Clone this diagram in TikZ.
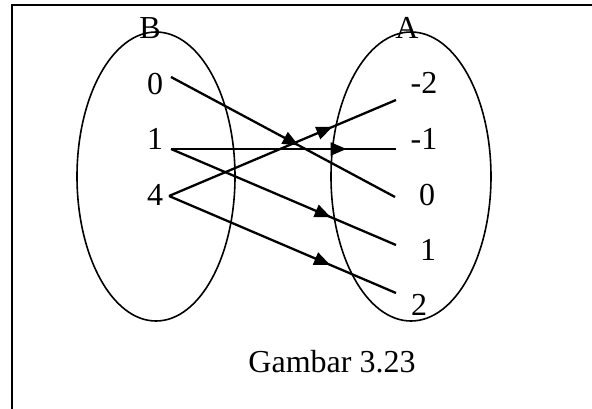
\documentclass[tikz,border=0pt]{standalone}
\usepackage{fontspec}
\setmainfont{Liberation Serif}
\usetikzlibrary{arrows.meta,decorations.markings}
\tikzset{
  lbl/.style={inner sep=0pt, anchor=base, font=\fontsize{32}{36}\selectfont},
  setoval/.style={draw, line width=1.6pt},
  frameline/.style={line width=2pt},
  maparrow/.style={line width=2.3pt, postaction={decorate},
    decoration={markings, mark=at position #1 with {\arrow{Triangle[length=16pt,width=13pt]}}}},
}
\begin{document}
\begin{tikzpicture}[x=1pt,y=-1pt]
\useasboundingbox (0,0) rectangle (592,409);
% frame (top and left edges)
\draw[frameline] (11.5,409) -- (11.5,5) -- (592,5);
% sets
\draw[setoval] (156,176.5) ellipse [x radius=79, y radius=144.5];
\draw[setoval] (411,176.5) ellipse [x radius=80, y radius=144.5];
% labels
\node[lbl] (B) at (150,39) {B};
\node[lbl] (A) at (407,39) {A};
\node[lbl] (b0) at (155,95) {0};
\node[lbl] (b1) at (155,150) {1};
\node[lbl] (b4) at (155,205) {4};
\node[lbl] (am2) at (424,94) {-2};
\node[lbl] (am1) at (424,150) {-1};
\node[lbl] (a0) at (427,205) {0};
\node[lbl] (a1) at (428,260) {1};
\node[lbl] (a2) at (419,315) {2};
\node[lbl] (cap) at (332,372) {Gambar 3.23};
% connector end points
\coordinate (s0) at (171,77);
\coordinate (s1) at (171,149);
\coordinate (s4) at (169,196);
\coordinate (em2) at (396,100);
\coordinate (em1) at (396,149);
\coordinate (e0) at (395,197);
\coordinate (e1) at (396,245);
\coordinate (e2) at (396,293);
% mappings
\draw[maparrow=0.57] (s0) -- (e0);
\draw[maparrow=0.78] (s1) -- (em1);
\draw[maparrow=0.71] (s1) -- (e1);
\draw[maparrow=0.72] (s4) -- (em2);
\draw[maparrow=0.71] (s4) -- (e2);
\end{tikzpicture}
\end{document}
